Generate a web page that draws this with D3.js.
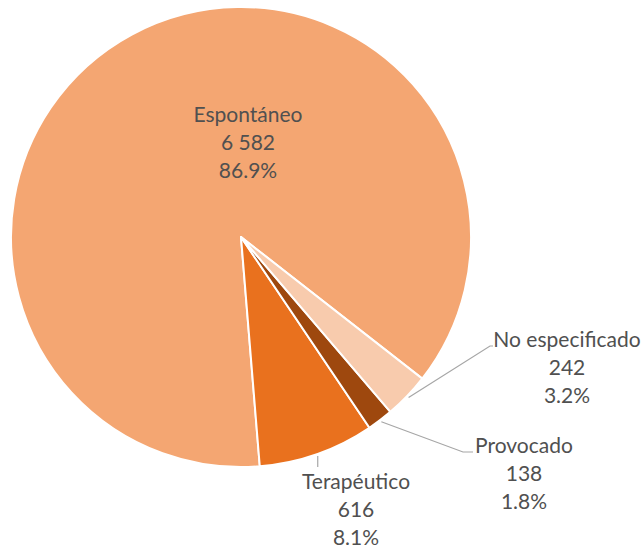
<!DOCTYPE html>
<html>
<head>
<meta charset="utf-8">
<script src="https://cdn.jsdelivr.net/npm/d3@7/dist/d3.min.js"></script>
<style>
  html, body { margin: 0; padding: 0; background: #ffffff; }
  svg { display: block; }
</style>
</head>
<body>
<svg id="chart" width="644" height="550"></svg>
<script>
// ---- data ----
const categories = ["Espontáneo", "Terapéutico", "Provocado", "No especificado"];
const counts = [6582, 616, 138, 242];
const valueLabels = ["6 582", "616", "138", "242"];
const percentLabels = ["86.9%", "8.1%", "1.8%", "3.2%"];

// ---- layout / style ----
const colors = ["#F4A672", "#E9711E", "#9E480E", "#F8CBAD"];
const cx = 241, cy = 237, radius = 230;
const startDeg = 128;           // slices run counter-clockwise from here
const fontFamily = "Lato, 'Open Sans', sans-serif";
const fontSize = 21;
const lineGap = 28;
// label box placement: centre x and first baseline y, plus leader elbow
const labelLayout = {
  "Espontáneo":      { x: 248, y: 122, leader: null },
  "Terapéutico":     { x: 356, y: 489, leader: { type: "v", ex: 320, ey: 467 } },
  "Provocado":       { x: 524, y: 453, leader: { type: "h", ex: 463, ey: 452, hx: 473 } },
  "No especificado": { x: 567, y: 347, leader: { type: "h", ex: 490, ey: 346, hx: 493 } }
};

const data = categories.map((c, i) => ({
  name: c, value: counts[i], vLabel: valueLabels[i], pLabel: percentLabels[i], color: colors[i]
}));

const svg = d3.select("#chart");
const g = svg.append("g").attr("transform", `translate(${cx},${cy})`);

const toRad = d => d * Math.PI / 180;
const pie = d3.pie()
  .value(d => d.value)
  .sort(null)
  .startAngle(toRad(startDeg))
  .endAngle(toRad(startDeg - 360));

const arc = d3.arc().innerRadius(0).outerRadius(radius);
const arcs = pie(data);

g.selectAll("path.slice")
  .data(arcs)
  .join("path")
  .attr("class", "slice")
  .attr("d", arc)
  .attr("fill", d => d.data.color)
  .attr("stroke", "#ffffff")
  .attr("stroke-width", 2)
  .attr("stroke-linejoin", "round");

// leader lines
const edgeArc = d3.arc().innerRadius(radius + 2).outerRadius(radius + 2);
arcs.forEach(a => {
  const lay = labelLayout[a.data.name];
  if (!lay.leader) return;
  const p = edgeArc.centroid(a);
  const sx = p[0] + cx, sy = p[1] + cy;
  const L = lay.leader;
  let pts;
  if (L.type === "v") {
    pts = [[sx, sy], [sx, L.ey]];
  } else {
    pts = [[sx, sy], [L.ex, L.ey], [L.hx, L.ey]];
  }
  svg.append("path")
    .attr("d", d3.line()(pts))
    .attr("fill", "none")
    .attr("stroke", "#A6A6A6")
    .attr("stroke-width", 1.2);
});

// labels
arcs.forEach(a => {
  const lay = labelLayout[a.data.name];
  const t = svg.append("text")
    .attr("text-anchor", "middle")
    .attr("font-family", fontFamily)
    .attr("font-size", fontSize)
    .attr("fill", "#505050");
  [a.data.name, a.data.vLabel, a.data.pLabel].forEach((s, i) => {
    t.append("tspan").attr("x", lay.x).attr("y", lay.y + i * lineGap).text(s);
  });
});
</script>
</body>
</html>
